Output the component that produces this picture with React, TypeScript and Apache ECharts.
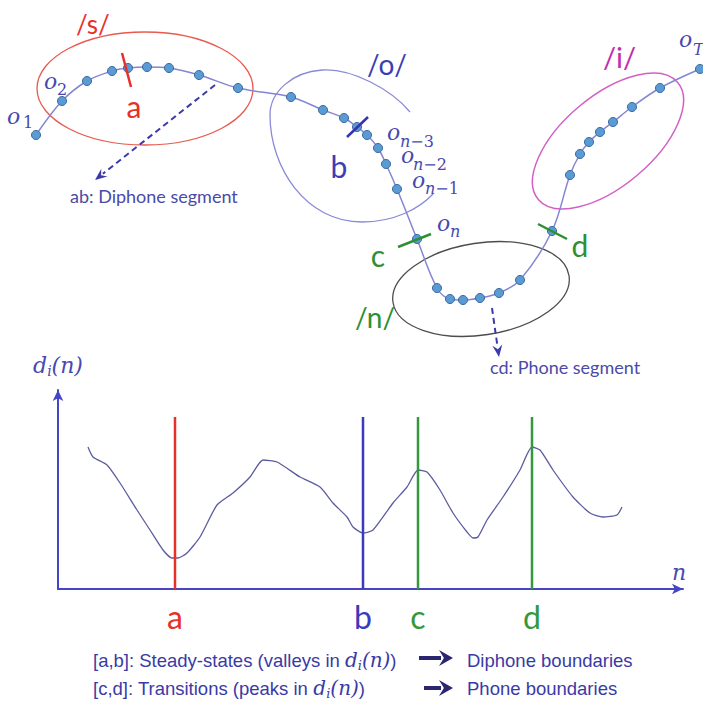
import { useEffect, useRef } from "react";
import * as echarts from "echarts";

// Observation trajectory o1 ... oT in the feature plane (page pixel units)
const trajX = [36, 62, 87, 112, 128, 147, 169, 199, 238, 291, 323, 344, 357, 367, 378, 386, 397, 417, 437, 450, 463, 480, 499, 520, 552, 570, 580, 589, 600, 613, 632, 660, 700];
const trajY = [135, 101, 81, 71, 68, 67, 68, 75, 88, 97, 110, 118, 127, 135, 148, 164, 189, 239, 288, 299, 300, 298, 293, 280, 231, 175, 154, 142, 132, 122, 107, 88, 69];

// Distance curve d_i(n)
const frameN = [30, 35, 49, 62, 79, 92, 105, 114, 120, 129, 142, 159, 175, 192, 205, 219, 242, 262, 275, 289, 295, 305, 315, 335, 349, 360, 369, 382, 395, 409, 415, 420, 429, 445, 462, 474, 482, 495, 515, 532, 545, 559, 564];
const distD = [142, 132, 124, 106, 79, 59, 39, 31, 31, 36, 52, 84, 96, 112, 129, 127, 112, 102, 86, 72, 62, 56, 59, 86, 102, 119, 117, 99, 76, 57, 51, 52, 69, 92, 119, 142, 139, 119, 92, 76, 72, 74, 82];

// Boundaries a, b, c, d
const boundaryNames = ["a", "b", "c", "d"];
const boundaryN = [117, 305, 360, 474];
const boundaryTop = 172;

const RED = "#E8302A";
const BLUE = "#3B3EB2";
const GREEN = "#2E8F34";
const MAGENTA = "#C02FAE";
const MATH = "#4848B0";
const AXIS = "#4545C6";
const TXT = "#3A3AA6";
const boundaryColors = [RED, "#3A3ABE", "#35983C", "#35983C"];
const SANS = '"Lato", "Open Sans", sans-serif';
const ARIAL = '"Liberation Sans", Arial, sans-serif';
const SERIF = '"DejaVu Serif", serif';

// open outline of the /o/ region
const O_REGION_PATH = "M410 112 C392 90 352 68 322 70 C292 72 270 92 270 115 C270 168 306 222 362 222 C395 222 420 208 433 194";
echarts.graphic.registerShape("oRegion", echarts.graphic.extendPath(O_REGION_PATH, {}));

function head(x1: number, y1: number, x2: number, y2: number, len: number, half: number) {
  const a = Math.atan2(y2 - y1, x2 - x1);
  const c = Math.cos(a), s = Math.sin(a);
  const bx = x2 - len * c, by = y2 - len * s;
  return [[x2, y2], [bx + half * s, by - half * c], [bx + 0.35 * len * c, by + 0.35 * len * s], [bx - half * s, by + half * c]];
}

function arrow(x1: number, y1: number, x2: number, y2: number, color: string, width: number, len: number, half: number, dash?: number[]) {
  const a = Math.atan2(y2 - y1, x2 - x1);
  const ex = x2 - (len - 2) * Math.cos(a), ey = y2 - (len - 2) * Math.sin(a);
  return [
    { type: "line", z: 30, shape: { x1, y1, x2: ex, y2: ey }, style: { stroke: color, lineWidth: width, lineDash: dash } },
    { type: "polygon", z: 30, shape: { points: head(x1, y1, x2, y2, len, half) }, style: { fill: color } },
  ];
}

function mathO(x: number, y: number, subX: number, subY: number, subRich: string) {
  return [
    { type: "text", z: 40, x, y, style: { text: "o", font: `italic 22px ${SERIF}`, fill: MATH, textAlign: "left", textVerticalAlign: "middle" } },
    {
      type: "text", z: 40, x: subX, y: subY,
      style: {
        text: subRich, fill: MATH, textAlign: "left", textVerticalAlign: "middle",
        font: `16px ${SERIF}`,
        rich: { i: { fontFamily: SERIF, fontStyle: "italic", fontSize: 16, fill: MATH }, r: { fontFamily: SERIF, fontSize: 16, fill: MATH } },
      },
    },
  ];
}

function label(text: string, x: number, y: number, size: number, color: string, align = "left") {
  return { type: "text", z: 40, x, y, style: { text, font: `${size}px ${SANS}`, fill: color, textAlign: align, textVerticalAlign: "middle" } };
}

export default function App() {
  const ref = useRef<HTMLDivElement>(null);
  useEffect(() => {
    if (!ref.current) return;
    const chart = echarts.init(ref.current, null, { renderer: "svg" });
    const lineRich = {
      t: { fontFamily: ARIAL, fontSize: 18.5, fill: TXT },
      m: { fontFamily: SERIF, fontStyle: "italic", fontSize: 20, fill: TXT },
      s: { fontFamily: SERIF, fontStyle: "italic", fontSize: 13, fill: TXT, padding: [11, 0, 0, 0] },
    };
    const graphic: any[] = [
      // phoneme regions
      { type: "ellipse", z: 1, x: 145, y: 88.5, shape: { cx: 0, cy: 0, rx: 108, ry: 56.5 }, style: { fill: "none", stroke: "#E85A50", lineWidth: 1.3 } },
      { type: "oRegion", z: 1, style: { fill: "none", stroke: "#8A8AD8", lineWidth: 1.3 } },
      { type: "ellipse", z: 1, x: 608, y: 141, rotation: (40 * Math.PI) / 180, shape: { cx: 0, cy: 0, rx: 91, ry: 45 }, style: { fill: "none", stroke: "#D35FC4", lineWidth: 1.5 } },
      { type: "ellipse", z: 1, x: 481, y: 289, rotation: 0.15, shape: { cx: 0, cy: 0, rx: 89, ry: 46 }, style: { fill: "none", stroke: "#4D4D4D", lineWidth: 1.3 } },
      // boundary ticks on trajectory
      { type: "line", z: 25, shape: { x1: 122, y1: 53, x2: 131, y2: 87 }, style: { stroke: RED, lineWidth: 2.5 } },
      { type: "line", z: 25, shape: { x1: 347, y1: 137, x2: 368, y2: 117 }, style: { stroke: "#3434AE", lineWidth: 2.5 } },
      { type: "line", z: 25, shape: { x1: 398, y1: 247, x2: 431, y2: 234 }, style: { stroke: GREEN, lineWidth: 2.5 } },
      { type: "line", z: 25, shape: { x1: 538, y1: 224, x2: 567, y2: 239 }, style: { stroke: GREEN, lineWidth: 2.5 } },
      // labels
      label("/s/", 76, 24, 26, RED),
      label("a", 134, 106, 30, RED, "center"),
      label("/o/", 367, 64, 28, BLUE),
      label("b", 339, 166, 30, BLUE, "center"),
      label("/i/", 603, 56, 29, MAGENTA),
      label("c", 378, 255, 30, GREEN, "center"),
      label("d", 580, 245, 30, GREEN, "center"),
      label("/n/", 355, 317, 28, GREEN),
      label("ab: Diphone segment", 70, 196, 18, "#4A4AA8"),
      label("cd: Phone segment", 490, 367, 18, "#4A4AA8"),
      ...mathO(7, 116, 23, 122, "{r|1}"),
      ...mathO(44, 81, 57, 89, "{r|2}"),
      ...mathO(387, 132, 400, 141, "{i|n}{r|−3}"),
      ...mathO(401, 155, 413, 164, "{i|n}{r|−2}"),
      ...mathO(412, 180, 425, 188, "{i|n}{r|−1}"),
      ...mathO(437, 223, 450, 231, "{i|n}"),
      ...mathO(679, 39, 693, 49, "{i|T}"),
      // arrows
      ...arrow(215, 85, 95, 180, "#3A3AAE", 2, 12, 5, [6, 4]),
      ...arrow(492, 308, 499, 357, "#3A3AAE", 2, 12, 5, [6, 4]),
      ...arrow(419, 658, 453, 658, "#2A2770", 4, 14, 8),
      ...arrow(424, 688, 453, 688, "#2A2770", 4, 14, 8),
      // bottom explanation
      { type: "text", z: 40, x: 93, y: 660, style: { text: "{t|[a,b]: Steady-states (valleys in }{m|d}{s|i}{m|(n)}{t|)}", rich: lineRich, textAlign: "left", textVerticalAlign: "middle" } },
      { type: "text", z: 40, x: 93, y: 688, style: { text: "{t|[c,d]: Transitions (peaks in }{m|d}{s|i}{m|(n)}{t|)}", rich: lineRich, textAlign: "left", textVerticalAlign: "middle" } },
      { type: "text", z: 40, x: 467, y: 660, style: { text: "Diphone boundaries", font: `18.5px ${ARIAL}`, fill: TXT, textAlign: "left", textVerticalAlign: "middle" } },
      { type: "text", z: 40, x: 467, y: 688, style: { text: "Phone boundaries", font: `18.5px ${ARIAL}`, fill: TXT, textAlign: "left", textVerticalAlign: "middle" } },
      { type: "text", z: 40, x: 672, y: 572, style: { text: "n", font: `italic 22px ${SERIF}`, fill: MATH, textAlign: "left", textVerticalAlign: "middle" } },
    ];

    chart.setOption({
      animation: false,
      backgroundColor: "#ffffff",
      grid: [
        { left: 0, top: 0, width: 703, height: 711 },
        { left: 58, top: 390, width: 625, height: 199 },
      ],
      xAxis: [
        { gridIndex: 0, type: "value", min: 0, max: 703, show: false },
        {
          gridIndex: 1, type: "value", min: 0, max: 625,
          axisLine: { show: true, symbol: ["none", "arrow"], symbolSize: [8, 11], lineStyle: { color: AXIS, width: 2 } },
          axisTick: { show: false },
          splitLine: { show: false },
          axisLabel: {
            show: true,
            customValues: boundaryN,
            margin: 11,
            formatter: (v: number) => {
              const i = boundaryN.indexOf(v);
              return i >= 0 ? `{${boundaryNames[i]}|${boundaryNames[i]}}` : "";
            },
            rich: Object.fromEntries(boundaryNames.map((nm, i) => [nm, { color: boundaryColors[i], fontSize: 32, fontFamily: SANS }])),
          },
        },
      ],
      yAxis: [
        { gridIndex: 0, type: "value", min: 0, max: 711, inverse: true, show: false },
        {
          gridIndex: 1, type: "value", min: 0, max: 199,
          axisLine: { show: true, symbol: ["none", "arrow"], symbolSize: [8, 11], lineStyle: { color: AXIS, width: 2 } },
          axisTick: { show: false },
          axisLabel: { show: false },
          splitLine: { show: false },
          name: "{m|d}{s|i}{m|(n)}",
          nameLocation: "end",
          nameGap: 12,
          nameTextStyle: {
            rich: {
              m: { fontFamily: SERIF, fontStyle: "italic", fontSize: 22, color: MATH },
              s: { fontFamily: SERIF, fontStyle: "italic", fontSize: 14, color: MATH, padding: [11, 0, 0, 0] },
            },
          },
        },
      ],
      graphic,
      series: [
        {
          type: "line",
          xAxisIndex: 0, yAxisIndex: 0,
          data: trajX.map((x, i) => [x, trajY[i]]),
          smooth: 0.35,
          symbol: "circle",
          symbolSize: 9,
          itemStyle: { color: "#5B9BD5", borderColor: "#3A6A9A", borderWidth: 1 },
          lineStyle: { color: "#8585D6", width: 1.5 },
          z: 5,
          silent: true,
        },
        {
          type: "line",
          xAxisIndex: 1, yAxisIndex: 1,
          data: frameN.map((n, i) => [n, distD[i]]),
          smooth: 0.2,
          symbol: "none",
          lineStyle: { color: "#5C5D9E", width: 1.3 },
          z: 3,
          silent: true,
        },
        ...boundaryN.map((n, i) => ({
          type: "line",
          name: boundaryNames[i],
          xAxisIndex: 1, yAxisIndex: 1,
          data: [[n, 0], [n, boundaryTop]],
          symbol: "none",
          lineStyle: { color: boundaryColors[i], width: 2.5 },
          z: 4,
          silent: true,
        })),
      ],
    });
    return () => chart.dispose();
  }, []);
  return <div ref={ref} style={{ position: "absolute", left: 0, top: 0, width: 703, height: 711 }} />;
}
